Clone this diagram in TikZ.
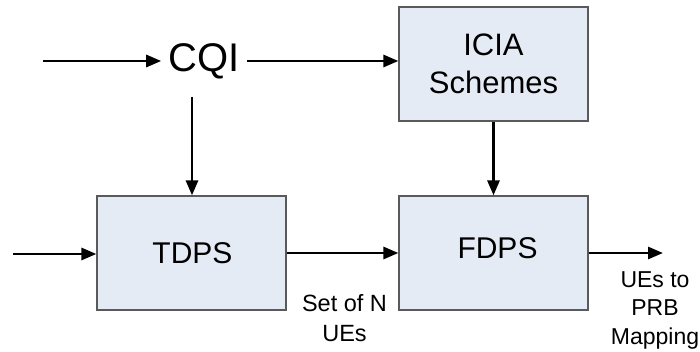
\documentclass[tikz,border=0pt]{standalone}
\usepackage{fontspec}
\setmainfont{Liberation Sans}
\usetikzlibrary{arrows.meta}
\definecolor{boxfill}{HTML}{E5EBF5}
\definecolor{boxline}{HTML}{5A5A5A}
\begin{document}
\begin{tikzpicture}[x=1pt,y=1pt,
  block/.style={draw=boxline,line width=1.2pt,fill=boxfill,minimum width=189pt,minimum height=114pt,inner sep=0pt,align=center},
  btext/.style={font=\fontsize{30}{34}\selectfont,inner sep=0pt},
  conn/.style={line width=2.8pt,-{Triangle[length=15pt,width=12pt]}},
  lbl/.style={align=center,inner sep=0pt}]
\useasboundingbox (0,0) rectangle (700,352);
\node[block,font=\fontsize{31}{38}\selectfont] (icia) at (493.5,288) {ICIA\\Schemes};
\node[block] (tdps) at (191.5,99) {};
\node[block] (fdps) at (493.5,99) {};
\node[btext] (tdpst) at (192.5,99) {TDPS};
\node[btext] (fdpst) at (497.5,104) {FDPS};
\node[font=\fontsize{40}{44}\selectfont,inner xsep=7pt,inner ysep=0pt] (cqi) at (204,291) {CQI};
\coordinate (in1) at (43,291);
\coordinate (in2) at (13,98);
\coordinate (out) at (663,99);
\coordinate (cqid) at (192,255);
\draw[conn] (in1) -- (cqi.west);
\draw[conn] (cqi.east) -- (cqi.east -| icia.west);
\draw[conn] (cqid) -- (cqid |- tdps.north);
\draw[conn] (icia.south) -- (fdps.north);
\draw[conn] (in2) -- (in2 -| tdps.west);
\draw[conn] (tdps.east) -- (fdps.west);
\draw[conn] (fdps.east) -- (out);
\node[lbl,font=\fontsize{23.5}{30}\selectfont] (setn) at (344.5,34) {Set of N\\UEs};
\node[lbl,font=\fontsize{23}{28.5}\selectfont] (map) at (655,42) {UEs to\\PRB\\Mapping};
\end{tikzpicture}
\end{document}
